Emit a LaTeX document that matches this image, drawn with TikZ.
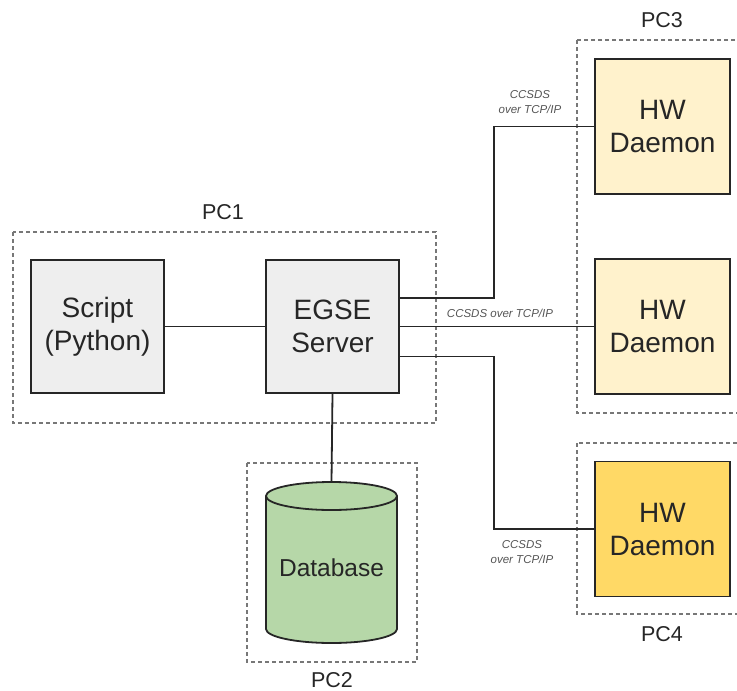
\documentclass[tikz,border=0pt]{standalone}
\usepackage{fontspec}
\setmainfont{Liberation Sans}
\definecolor{boxgray}{HTML}{EEEEEE}
\definecolor{daemonlight}{HTML}{FFF2CC}
\definecolor{daemondark}{HTML}{FFD966}
\definecolor{dbgreen}{HTML}{B6D7A8}
\definecolor{pcline}{HTML}{777777}
\definecolor{lblgray}{HTML}{555555}
\tikzset{
  block/.style={draw=black!85, line width=1.8pt, minimum width=133pt, minimum height=133pt,
    align=center, font=\fontsize{28}{33}\selectfont, text=black!85},
  daemon/.style={block, minimum width=135pt, minimum height=135pt},
  pcbox/.style={draw=pcline, line width=1.2pt, dash pattern=on 4pt off 3pt},
  pclabel/.style={font=\fontsize{21.5}{24}\selectfont, text=black!85},
  link/.style={draw=black!85, line width=1.8pt},
  proto/.style={align=center, font=\fontsize{11.5}{15}\selectfont\itshape, text=lblgray},
}
\begin{document}
\begin{tikzpicture}[x=1pt, y=-1pt]
    \useasboundingbox (0,0) rectangle (737,691);

    % computers (dashed frames)
    \draw[pcbox] (13,232)  rectangle (436,423);
    \draw[pcbox] (247,463) rectangle (417,662);
    \draw[pcbox] (577,40)  rectangle (745,413);
    \draw[pcbox] (577,443) rectangle (745,614);
    \node[pclabel] (pc1) at (223,212) {PC1};
    \node[pclabel] (pc2) at (332,680) {PC2};
    \node[pclabel] (pc3) at (662,20)  {PC3};
    \node[pclabel] (pc4) at (662,634) {PC4};

    % boxes
    \node[block, fill=boxgray] (script) at (97.5,326.5)  {Script\\(Python)};
    \node[block, fill=boxgray] (egse)   at (332.5,326.5) {EGSE\\Server};
    \node[daemon, fill=daemonlight] (hwa) at (662.5,126.5) {HW\\Daemon};
    \node[daemon, fill=daemonlight] (hwb) at (662.5,326.5) {HW\\Daemon};
    \node[daemon, fill=daemondark]  (hwc) at (662.5,529)   {HW\\Daemon};

    % database: cylinder drawn by hand ('pt' radii are canvas units)
    \draw[draw=black!85, line width=1.8pt, fill=dbgreen]
        (266,496) -- (266,629) arc (180:360:65.5pt and 14pt) -- (397,496)
        arc (0:180:65.5pt and 14pt) -- cycle;
    \draw[draw=black!85, line width=1.8pt] (266,496) arc (180:360:65.5pt and 14pt);
    \coordinate (dbtop) at (331.5,482);
    \node[font=\fontsize{24.5}{28}\selectfont, text=black!85] (db) at (331.5,568) {Database};

    % connections
    \draw[link] (script.east) -- (egse.west);
    \draw[link] (egse.south) -- (dbtop);
    \draw[link] ([yshift=28.5pt]egse.east) -- ++(94,0) |- (hwa.west);
    \draw[link] (egse.east) -- (hwb.west);
    \draw[link] ([yshift=-30pt]egse.east) -- ++(94,0) |- (hwc.west);

    \node[proto] (proa) at (530,102) {CCSDS\\over TCP/IP};
    \node[proto] (prob) at (500,313) {CCSDS over TCP/IP};
    \node[proto] (proc) at (522,552) {CCSDS\\over TCP/IP};
\end{tikzpicture}
\end{document}
